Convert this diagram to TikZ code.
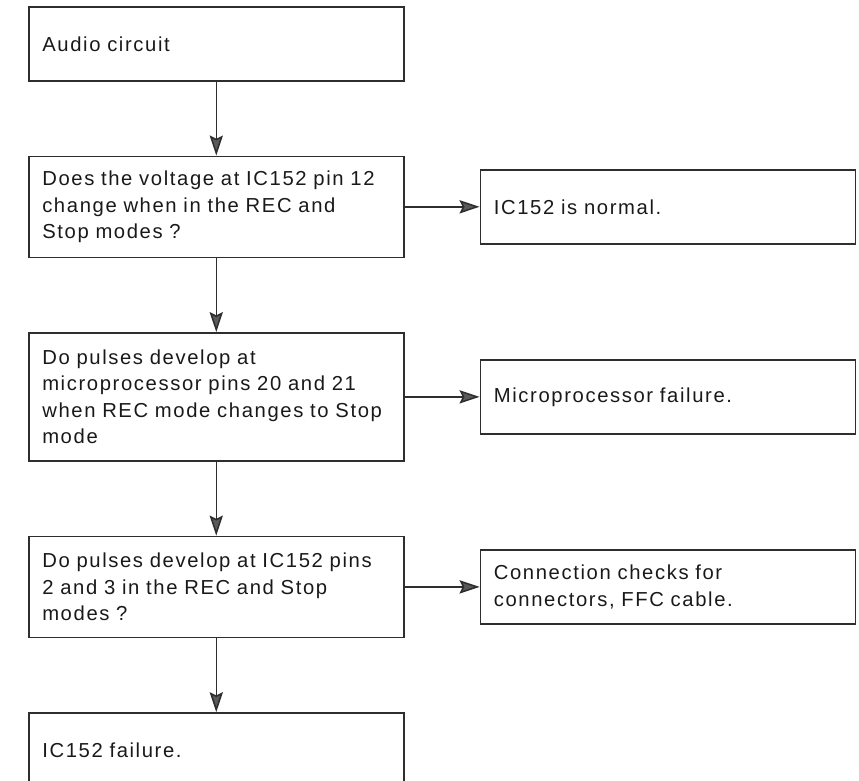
\documentclass[tikz,border=0pt]{standalone}
\usepackage{fontspec}
\setmainfont{Liberation Sans}[LetterSpace=8]
\usepackage{xcolor}
\usepackage{tikz}
\usetikzlibrary{arrows.meta, positioning}
\definecolor{linegray}{HTML}{2E2E2E}
\definecolor{tipgray}{HTML}{5A5A5A}

\begin{document}
\begin{tikzpicture}[
        node distance=1.85cm and 1.875cm,
        box/.style={rectangle, draw=linegray, line width=1.1pt, text=black!90, text width=8.7cm, inner xsep=0.3375cm, align=left, minimum width=9.375cm, font=\fontsize{14.4}{18.9}\selectfont},
        result/.style={box, minimum height=1.85cm},
        arrow/.style={-{Stealth[length=0.5cm, width=0.33cm, inset=0.08cm, fill=tipgray]}, draw=linegray, line width=1.1pt}
    ]
        \useasboundingbox (0,0) rectangle (21.475,-19.525);
        % Nodes
        \node[box, minimum height=1.85cm, anchor=north west] (audio) at (0.7,-0.15) {Audio circuit};
        \node[box, minimum height=2.525cm, below=of audio] (volt) {Does the voltage at IC152 pin 12\\change when in the REC and\\Stop modes ?};
        \node[box, minimum height=3.2cm, below=of volt] (micro) {Do pulses develop at\\microprocessor pins 20 and 21\\when REC mode changes to Stop\\mode};
        \node[box, minimum height=2.525cm, below=of micro] (pins) {Do pulses develop at IC152 pins\\2 and 3 in the REC and Stop\\modes ?};
        \node[box, minimum height=1.85cm, below=of pins] (icfail) {IC152 failure.};

        \node[result, right=of volt] (normal) {IC152 is normal.};
        \node[result, right=of micro] (mpfail) {Microprocessor failure.};
        \node[result, right=of pins] (checks) {Connection checks for\\connectors, FFC cable.};

        % Arrows
        \draw[arrow] (audio) -- (volt);
        \draw[arrow] (volt) -- (micro);
        \draw[arrow] (micro) -- (pins);
        \draw[arrow] (pins) -- (icfail);

        \draw[arrow] (volt) -- (normal);
        \draw[arrow] (micro) -- (mpfail);
        \draw[arrow] (pins) -- (checks);
    \end{tikzpicture}
\end{document}
